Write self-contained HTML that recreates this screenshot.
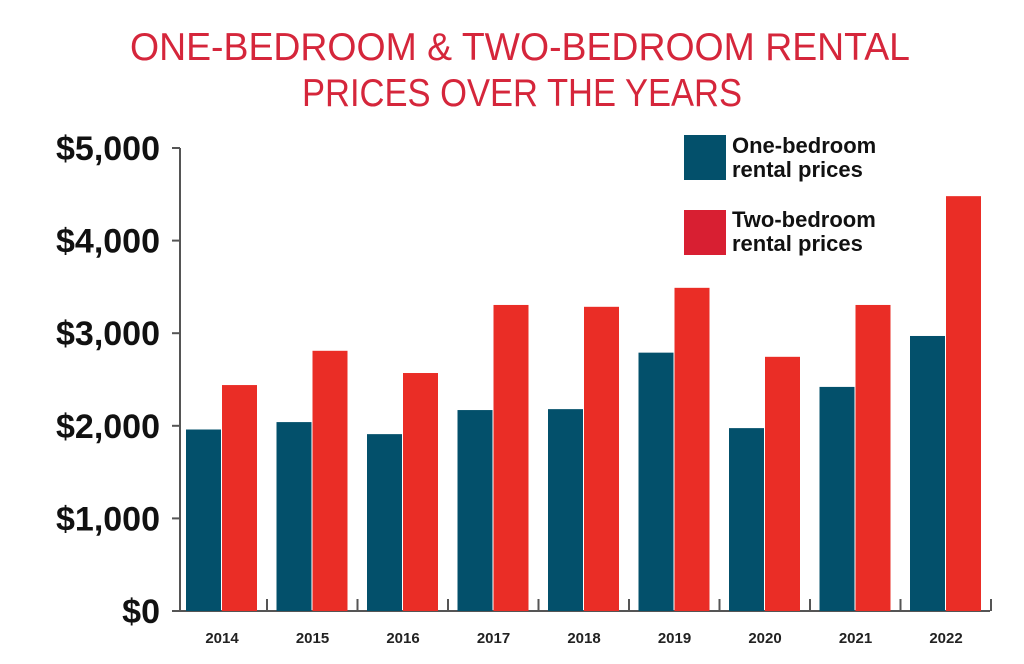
<!DOCTYPE html>
<html><head><meta charset="utf-8"><style>
body{margin:0;background:#fff;}
svg{display:block;font-family:"Liberation Sans",sans-serif;}
</style></head><body>
<svg width="1024" height="664" viewBox="0 0 1024 664">
<g fill="#d5263b" font-size="39" text-anchor="middle">
<text x="520" y="60" textLength="780" lengthAdjust="spacingAndGlyphs">ONE-BEDROOM &amp; TWO-BEDROOM RENTAL</text>
<text x="522" y="106" textLength="440" lengthAdjust="spacingAndGlyphs">PRICES OVER THE YEARS</text>
</g>
<g id="axes"></g>
<g id="bars"></g>
<g font-weight="bold" font-size="22" fill="#111">
<rect x="684" y="135" width="42" height="45" fill="#03506b"/>
<text x="732" y="153">One-bedroom</text>
<text x="732" y="177">rental prices</text>
<rect x="684" y="210" width="42" height="45" fill="#d81f32"/>
<text x="732" y="227">Two-bedroom</text>
<text x="732" y="251">rental prices</text>
</g>
</svg>
<script>
const years=["2014","2015","2016","2017","2018","2019","2020","2021","2022"];
const oneBedroom=[1960,2040,1910,2170,2180,2790,1975,2420,2970];
const twoBedroom=[2440,2810,2570,3305,3285,3490,2745,3305,4480];
const yTicks=[0,1000,2000,3000,4000,5000];
const yTickLabels=["$0","$1,000","$2,000","$3,000","$4,000","$5,000"];
const NS="http://www.w3.org/2000/svg";
const y0=611,pxPer=463/5000;
const yScale=v=>y0-v*pxPer;
const groupX=i=>186+i*90.5;
const bw=35;
function mk(tag,attrs,parent){const e=document.createElementNS(NS,tag);for(const k in attrs)e.setAttribute(k,attrs[k]);parent.appendChild(e);return e;}
const axes=document.getElementById('axes'),bars=document.getElementById('bars');
let l=mk('line',{x1:180,y1:yScale(5000),x2:180,y2:y0,stroke:'#555','stroke-width':2},axes);


l=mk('line',{x1:179,y1:y0,x2:990,y2:y0,stroke:'#555','stroke-width':2},axes);


yTicks.forEach((v,i)=>{
 const t=mk('line',{x1:172,y1:yScale(v),x2:180,y2:yScale(v),stroke:'#555','stroke-width':2},axes);
 
 
 const tx=mk('text',{x:160,y:yScale(v)+12,'text-anchor':'end','font-size':34,'font-weight':'bold',fill:'#111'},axes);
 tx.textContent=yTickLabels[i];
 
 
});
years.forEach((yr,i)=>{
 const gx=groupX(i);
 const b1=mk('rect',{x:gx,y:yScale(oneBedroom[i]),width:bw,height:y0-yScale(oneBedroom[i]),fill:'#03506b'},bars);
 
 
 const b2=mk('rect',{x:gx+bw+1,y:yScale(twoBedroom[i]),width:bw,height:y0-yScale(twoBedroom[i]),fill:'#ea2d26'},bars);
 
 
 const t=mk('line',{x1:gx+81,y1:y0,x2:gx+81,y2:y0-12,stroke:'#555','stroke-width':2},axes);
 
 
 const tx=mk('text',{x:gx+36,y:643,'text-anchor':'middle','font-size':15,'font-weight':'bold',fill:'#222'},axes);
 tx.textContent=yr;
 
 
});
</script>
</body></html>
